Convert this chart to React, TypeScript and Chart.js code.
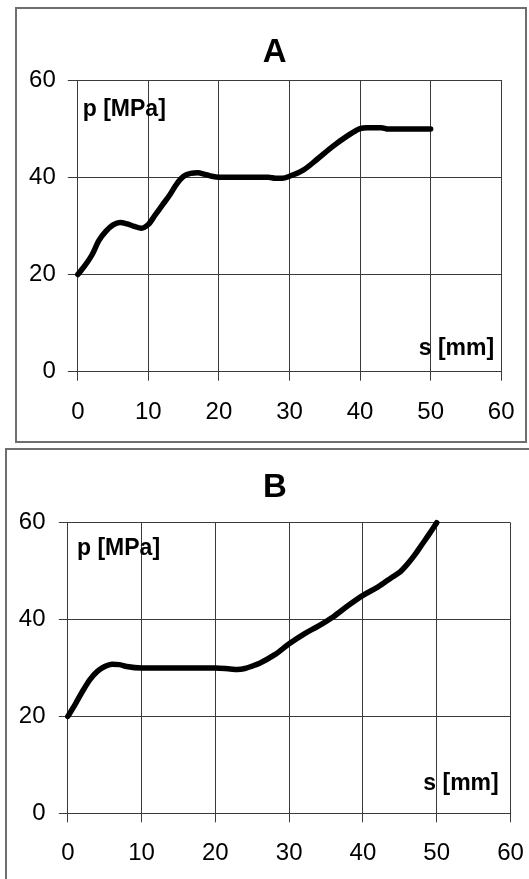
import React, { useEffect, useRef } from 'react';
import { Chart, registerables } from 'chart.js';

Chart.register(...registerables);

// ---- data ----
const xTickValues = [0, 10, 20, 30, 40, 50, 60];
const yTickValues = [0, 20, 40, 60];

const titleA = 'A';
const sA = [0, 1, 2, 3, 4, 5, 6, 7, 8, 9, 10, 11, 12, 13, 14, 15, 16, 17, 18, 19, 20, 24, 27, 28, 29, 30, 32, 34, 36, 38, 40, 41, 43, 44, 50];
const pA = [20, 21.8, 24, 27, 28.9, 30.2, 30.7, 30.4, 29.9, 29.5, 30.3, 32.3, 34.3, 36.3, 38.6, 40.2, 40.8, 40.9, 40.6, 40.2, 40, 40, 40, 39.8, 39.8, 40.2, 41.5, 43.8, 46.2, 48.3, 50, 50.2, 50.2, 49.9, 49.9];

const titleB = 'B';
const sB = [0, 1, 2, 3, 4, 5, 6, 7, 8, 10, 15, 20, 22, 23, 24, 25, 26, 28, 30, 32, 34, 36, 38, 40, 42, 44, 45, 46, 47, 48, 49, 50];
const pB = [20, 22.5, 25.2, 27.6, 29.3, 30.3, 30.8, 30.7, 30.3, 30, 30, 30, 29.8, 29.7, 29.9, 30.4, 31, 32.7, 35, 37, 38.7, 40.6, 42.9, 45, 46.7, 48.8, 49.8, 51.4, 53.3, 55.5, 57.7, 60];

const yAxisLabel = 'p [MPa]';
const xAxisLabel = 's [mm]';

const FAMILY = '"Liberation Sans", Arial, Helvetica, sans-serif';
const GRID = '#3a3a3a';

type Note = { text: string; x: number; y: number; align: CanvasTextAlign };
type Heading = { text: string; x: number; y: number };

const notesPlugin = {
  id: 'axisNotes',
  afterDatasetsDraw(chart: any, _args: any, opts: any) {
    const ctx = chart.ctx;
    const xs = chart.scales.x;
    const ys = chart.scales.y;
    ctx.save();
    ctx.fillStyle = '#000';
    ctx.textBaseline = 'middle';
    ctx.font = `bold 23px ${FAMILY}`;
    for (const n of (opts.notes || []) as Note[]) {
      ctx.textAlign = n.align;
      ctx.fillText(n.text, xs.getPixelForValue(n.x), ys.getPixelForValue(n.y));
    }
    const h = opts.heading as Heading | undefined;
    if (h) {
      ctx.font = `bold 33px ${FAMILY}`;
      ctx.textAlign = 'center';
      ctx.fillText(h.text, h.x, h.y);
    }
    ctx.restore();
  },
};

type Props = {
  title: string;
  s: number[];
  p: number[];
  width: number;
  height: number;
  padRight: number;
  padTop: number;
  titleX: number;
  titleY: number;
  xAxisHeight: number;
  yAxisWidth: number;
  xTickPad: number;
  yTickPad: number;
  yTickLen: number;
  notes: Note[];
};

function PlotBox(props: Props) {
  const ref = useRef<HTMLCanvasElement | null>(null);
  useEffect(() => {
    const canvas = ref.current!;
    const tickFont = { family: FAMILY, size: 24, weight: 'normal' as const };
    const chart = new Chart(canvas, {
      type: 'line',
      data: {
        datasets: [
          {
            label: props.title,
            data: props.s.map((v, i) => ({ x: v, y: props.p[i] })),
            borderColor: '#000',
            borderWidth: 5.5,
            pointRadius: 0,
            cubicInterpolationMode: 'monotone',
            fill: false,
            clip: false as any,
            borderJoinStyle: 'round',
            borderCapStyle: 'round',
          } as any,
        ],
      },
      plugins: [notesPlugin as any],
      options: {
        responsive: false,
        animation: false,
        devicePixelRatio: 1,
        events: [],
        layout: { padding: { left: 0, right: props.padRight, top: props.padTop, bottom: 0 } },
        plugins: {
          legend: { display: false },
          tooltip: { enabled: false },
          title: { display: false },
          axisNotes: {
            notes: props.notes,
            heading: { text: props.title, x: props.titleX, y: props.titleY },
          },
        } as any,
        scales: {
          x: {
            type: 'linear',
            min: 0,
            max: 60,
            afterBuildTicks: (sc: any) => {
              sc.ticks = xTickValues.map((v) => ({ value: v }));
            },
            afterFit: (sc: any) => {
              sc.height = props.xAxisHeight;
              sc.paddingLeft = 0;
              sc.paddingRight = 0;
            },
            ticks: { color: '#000', font: tickFont, padding: props.xTickPad, maxRotation: 0, autoSkip: false },
            grid: { color: GRID, lineWidth: 1, tickLength: 9 },
            border: { color: GRID, width: 1 },
          },
          y: {
            type: 'linear',
            min: 0,
            max: 60,
            afterBuildTicks: (sc: any) => {
              sc.ticks = yTickValues.map((v) => ({ value: v }));
            },
            afterFit: (sc: any) => {
              sc.width = props.yAxisWidth;
              sc.paddingTop = 0;
              sc.paddingBottom = 0;
            },
            ticks: { color: '#000', font: tickFont, padding: props.yTickPad, autoSkip: false },
            grid: { color: GRID, lineWidth: 1, tickLength: props.yTickLen },
            border: { color: GRID, width: 1 },
          },
        },
      },
    });
    return () => chart.destroy();
  }, []);
  return (
    <canvas
      ref={ref}
      width={props.width}
      height={props.height}
      style={{ display: 'block', width: props.width + 'px', height: props.height + 'px' }}
    />
  );
}

export default function App() {
  return (
    <div
      style={{
        position: 'absolute',
        left: 0,
        top: 0,
        width: 529,
        height: 879,
        overflow: 'hidden',
        background: '#fff',
      }}
    >
      <div style={{ position: 'absolute', left: 15, top: 7, width: 508, height: 432, border: '2px solid #6e6e6e' }}>
        <PlotBox
          title={titleA}
          s={sA}
          p={pA}
          width={508}
          height={432}
          padRight={23.8}
          padTop={71}
          titleX={257.6}
          titleY={43.5}
          xAxisHeight={69.3}
          yAxisWidth={60.8}
          xTickPad={17.5}
          yTickPad={12}
          yTickLen={10}
          notes={[
            { text: yAxisLabel, x: 0.7, y: 54.0, align: 'left' },
            { text: xAxisLabel, x: 59.0, y: 4.8, align: 'right' },
          ]}
        />
      </div>
      <div style={{ position: 'absolute', left: 5, top: 448, width: 522, height: 429, border: '2px solid #6e6e6e' }}>
        <PlotBox
          title={titleB}
          s={sB}
          p={pB}
          width={522}
          height={429}
          padRight={18.5}
          padTop={72.7}
          titleX={268}
          titleY={37.5}
          xAxisHeight={65.7}
          yAxisWidth={60.8}
          xTickPad={16.5}
          yTickPad={13.3}
          yTickLen={9}
          notes={[
            { text: yAxisLabel, x: 1.25, y: 54.7, align: 'left' },
            { text: xAxisLabel, x: 58.4, y: 6.2, align: 'right' },
          ]}
        />
      </div>
    </div>
  );
}
